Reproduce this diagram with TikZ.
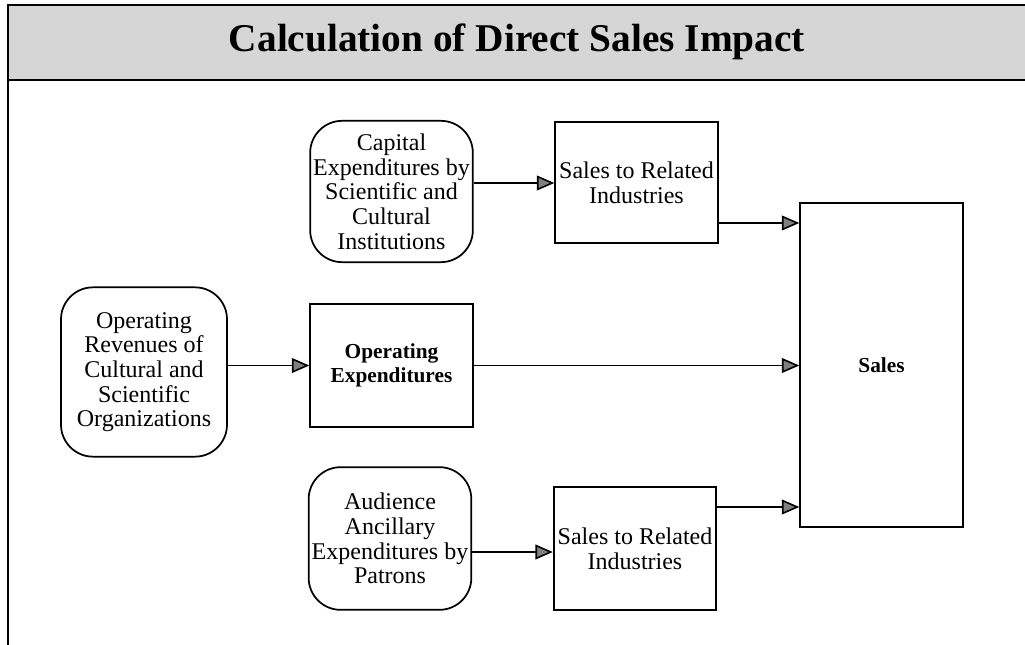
\documentclass[tikz,border=0pt]{standalone}
\usepackage{fontspec}
\setmainfont{Liberation Serif}
\usetikzlibrary{arrows.meta}
\definecolor{bandGray}{HTML}{D6D6D6}
\tikzset{
  srcnode/.style={draw, rounded corners=24pt, line width=1.3pt, align=center,
                  minimum width=122pt, inner sep=0pt,
                  font=\fontsize{18}{18.5}\selectfont},
  salenode/.style={draw, line width=1.3pt, align=center,
                   minimum width=122pt, inner sep=0pt,
                   font=\fontsize{18}{18.5}\selectfont},
  flowedge/.style={line width=1.2pt, -{Triangle[length=13pt, width=11pt, fill=gray]}},
}

\begin{document}
\begin{tikzpicture}[x=0.75pt, y=-0.75pt]
    \useasboundingbox (0,0) rectangle (1025,645);
    \fill[bandGray] (8,5) rectangle (1025,80);
    \draw[line width=2pt] (1025,5) -- (8,5) -- (8,645);
    \draw[line width=2pt] (8,80) -- (1025,80);
    \node[font=\bfseries\fontsize{29.5}{32}\selectfont] (title) at (517,42) {Calculation of Direct Sales Impact};
    \node[srcnode, minimum height=106pt] (cap) at (391.5,191.5) {Capital\\Expenditures by\\Scientific and\\Cultural\\Institutions};
    \node[salenode, minimum height=91pt] (rel1) at (636.5,182.5) {Sales to Related\\Industries};
    \node[srcnode, minimum width=124.5pt, minimum height=127pt] (rev) at (144,372) {Operating\\Revenues of\\Cultural and\\Scientific\\Organizations};
    \node[salenode, minimum height=92pt, font=\bfseries\fontsize{16}{18.5}\selectfont] (opex) at (391.5,365.5) {Operating\\Expenditures};
    \node[srcnode, minimum height=107pt] (aud) at (390,538.5) {Audience\\Ancillary\\Expenditures by\\Patrons};
    \node[salenode, minimum height=92pt] (rel2) at (635,548.5) {Sales to Related\\Industries};
    \node[salenode, minimum height=243pt, font=\bfseries\fontsize{16}{18.5}\selectfont] (sales) at (881.5,365) {Sales};
    \draw[flowedge] (cap.east |- 0,183) -- (rel1.west |- 0,183);
    \draw[flowedge] (rel1.east |- 0,223) -- (sales.west |- 0,223);
    \draw[flowedge] (rev.east |- opex) -- (opex.west);
    \draw[flowedge] (opex.east) -- (opex.east -| sales.west);
    \draw[flowedge] (aud.east |- 0,552) -- (rel2.west |- 0,552);
    \draw[flowedge] (rel2.east |- 0,507) -- (sales.west |- 0,507);
  \end{tikzpicture}
\end{document}
